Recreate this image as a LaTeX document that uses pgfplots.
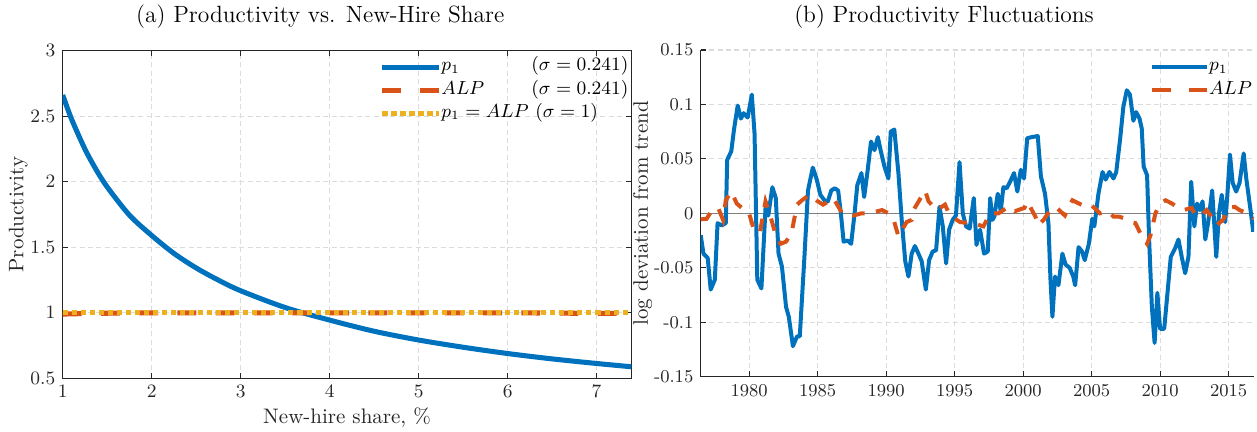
\documentclass[border=0pt]{standalone}
\usepackage{pgfplots}
\pgfplotsset{compat=1.18}
\definecolor{mblue}{rgb}{0,0.447,0.741}
\definecolor{morange}{rgb}{0.85,0.325,0.098}
\definecolor{myellow}{rgb}{0.929,0.694,0.125}
\definecolor{axgray}{rgb}{0.15,0.15,0.15}
\definecolor{gridgray}{rgb}{0.86,0.86,0.86}
\definecolor{zerogray}{rgb}{0.5,0.5,0.5}

\pgfplotsset{
  myaxis/.style={
    scale only axis,
    axis line style={axgray, line width=0.5pt},
    tick style={axgray, line width=0.5pt},
    major tick length=2.7pt,
    tick align=inside,
    grid=major,
    major grid style={gridgray, line width=0.5pt, dash pattern=on 2.4pt off 1.6pt},
    tick label style={font=\fontsize{8.6}{10}\selectfont, text=axgray},
    label style={font=\fontsize{10}{12}\selectfont, text=axgray},
    legend style={font=\fontsize{9.2}{11}\selectfont, draw=none, fill=none,
      inner sep=0pt, row sep=0pt,
      nodes={inner sep=0pt, text height=7.3pt, text depth=3.7pt}},
    legend cell align=left,
  }
}

\begin{document}
\begin{tikzpicture}
\useasboundingbox (-29.86pt,-25.10pt) rectangle (568.71pt,180.14pt);

% ---------------- (a) ----------------
\begin{axis}[myaxis,
  at={(0pt,0pt)}, anchor=south west,
  width=270.76pt, height=156pt,
  xmin=1, xmax=7.39, ymin=0.5, ymax=3,
  xtick={1,2,3,4,5,6,7},
  ytick={0.5,1,1.5,2,2.5,3},
  xlabel={New-hire share, \%},
  xlabel style={at={(axis description cs:0.5,-0.1395)}, anchor=base},
  ylabel={Productivity},
  ylabel style={at={(axis description cs:-0.078,0.5)}, anchor=center},
  legend image code/.code={\draw[#1] (0pt,0pt) -- (27pt,0pt);},
  legend style={at={(axis description cs:0.5568,0.9863)}, anchor=north west},
  after end axis/.append code={
    \node[anchor=base, font=\fontsize{11.2}{13}\selectfont, inner sep=0pt]
      at (rel axis cs:0.453,1.0855) {(a) Productivity vs. New-Hire Share};
  },
]
\addplot[mblue, line width=2.4pt, smooth, forget plot] coordinates {
(1,2.662) (1.1,2.477) (1.25,2.249) (1.375,2.093) (1.5,1.960) (1.75,1.745)
(2,1.590) (2.25,1.453) (2.5,1.342) (2.75,1.249) (3,1.168) (3.5,1.040)
(4,0.944) (4.5,0.859) (5,0.792) (5.5,0.737) (6,0.689) (6.5,0.648)
(7,0.613) (7.39,0.588)};
\addplot[morange, line width=2.4pt, dash pattern=on 9pt off 9.2pt, forget plot] coordinates {
(1,0.99) (1.3,0.995) (2,1) (3,1) (4,1) (5,1) (6,1) (7,0.995) (7.39,0.995)};
\addplot[myellow, line width=2.4pt, dash pattern=on 2.4pt off 1.9pt, forget plot] coordinates {
(1,1) (2,1) (3,1) (4,1) (5,1) (6,1) (7,1) (7.39,1)};
\addlegendimage{mblue, line width=2.4pt}
\addlegendentry{\makebox[89pt][l]{$p_1$\hfill$(\sigma = 0.241)$}}
\addlegendimage{morange, line width=2.4pt, dash pattern=on 9pt off 9pt}
\addlegendentry{\makebox[89pt][l]{$ALP$\hfill$(\sigma = 0.241)$}}
\addlegendimage{myellow, line width=2.4pt, dash pattern=on 2.7pt off 1.6pt}
\addlegendentry{$p_1 = ALP$ $(\sigma = 1)$}
\end{axis}

% ---------------- (b) ----------------
\begin{axis}[myaxis,
  at={(303.81pt,0.76pt)}, anchor=south west,
  width=263.5pt, height=155.57pt,
  axis x line*=bottom, axis y line*=left,
  xmin=1976.47, xmax=2016.86, ymin=-0.15, ymax=0.15,
  xtick={1980,1985,1990,1995,2000,2005,2010,2015},
  xticklabels={1980,1985,1990,1995,2000,2005,2010,2015},
  ytick={-0.15,-0.1,-0.05,0,0.05,0.1,0.15},
  yticklabels={-0.15,-0.1,-0.05,0,0.05,0.1,0.15},
  ylabel={log deviation from trend},
  ylabel style={at={(axis description cs:-0.105,0.5)}, anchor=center},
  legend image code/.code={\draw[#1] (0pt,0pt) -- (26pt,0pt);},
  legend style={at={(axis description cs:0.812,0.984)}, anchor=north west},
  after end axis/.append code={
    \node[anchor=base, font=\fontsize{11.2}{13}\selectfont, inner sep=0pt]
      at (rel axis cs:0.4397,1.0835) {(b) Productivity Fluctuations};
  },
]
\addplot[zerogray, line width=0.7pt, forget plot] coordinates {(1976.47,0) (2016.86,0)};
\addplot[mblue, line width=1.9pt, line join=round, forget plot] coordinates {
(1976.47,-0.020) (1976.67,-0.037) (1976.98,-0.041) (1977.2,-0.070) (1977.5,-0.061)
(1977.7,-0.009) (1978.0,-0.011) (1978.3,-0.009) (1978.4,0.049) (1978.7,0.057)
(1978.9,0.077) (1979.17,0.099) (1979.4,0.087) (1979.6,0.092) (1979.9,0.088)
(1980.2,0.109) (1980.4,0.073) (1980.6,-0.061) (1980.9,-0.069) (1981.2,0.005)
(1981.4,-0.002) (1981.7,0.024) (1981.95,0.014) (1982.15,-0.037) (1982.4,-0.049)
(1982.7,-0.086) (1982.9,-0.095) (1983.2,-0.122) (1983.5,-0.113) (1983.7,-0.113)
(1984.04,-0.040) (1984.3,0.021) (1984.65,0.042) (1984.94,0.031) (1985.2,0.017)
(1985.5,0.012) (1985.75,0.011) (1986.0,0.021) (1986.25,0.023) (1986.5,0.021)
(1986.7,0.0) (1986.9,-0.026) (1987.2,-0.025) (1987.45,-0.028) (1987.7,0.0)
(1987.9,0.026) (1988.2,0.037) (1988.4,0.015) (1988.66,0.040) (1988.9,0.066)
(1989.15,0.058) (1989.4,0.070) (1989.6,0.058) (1989.88,0.043) (1990.17,0.032)
(1990.34,0.075) (1990.6,0.077) (1990.9,0.037) (1991.14,-0.006) (1991.4,-0.044)
(1991.63,-0.058) (1991.87,-0.037) (1992.1,-0.030) (1992.36,-0.037) (1992.6,-0.044)
(1992.9,-0.070) (1993.14,-0.043) (1993.4,-0.035) (1993.65,-0.034) (1993.9,0.006)
(1994.14,-0.012) (1994.38,-0.046) (1994.6,-0.015) (1994.86,-0.006) (1995.1,-0.002)
(1995.36,0.047) (1995.6,0.0) (1995.84,-0.012) (1996.1,-0.014) (1996.4,0.014)
(1996.6,-0.029) (1996.86,-0.015) (1997.15,-0.037) (1997.42,-0.035) (1997.6,0.014)
(1997.76,-0.006) (1997.9,-0.003) (1998.15,0.018) (1998.37,0.002) (1998.56,0.024)
(1998.8,0.023) (1999.05,0.029) (1999.34,0.037) (1999.58,0.020) (1999.83,0.040)
(2000.07,0.032) (2000.3,0.069) (2000.63,0.070) (2001.07,0.071) (2001.3,0.034)
(2001.6,0.018) (2001.85,-0.009) (2002.0,-0.061) (2002.14,-0.095) (2002.33,-0.058)
(2002.58,-0.066) (2002.87,-0.037) (2003.1,-0.047) (2003.4,-0.050) (2003.66,-0.058)
(2003.8,-0.066) (2004.05,-0.031) (2004.3,-0.035) (2004.5,-0.043) (2004.8,-0.028)
(2005.05,-0.005) (2005.2,-0.012) (2005.5,0.018) (2005.8,0.038) (2006.03,0.031)
(2006.3,0.038) (2006.6,0.032) (2006.8,0.038) (2007.08,0.068) (2007.32,0.098)
(2007.57,0.113) (2007.8,0.109) (2008.05,0.085) (2008.25,0.093) (2008.5,0.087)
(2008.66,0.078) (2008.8,0.043) (2009.05,0.035) (2009.2,-0.024) (2009.4,-0.086)
(2009.6,-0.119) (2009.8,-0.073) (2010.0,-0.106) (2010.3,-0.106) (2010.54,-0.073)
(2010.78,-0.040) (2011.1,-0.032) (2011.34,-0.024) (2011.58,-0.040) (2011.83,-0.055)
(2012.07,-0.040) (2012.27,0.029) (2012.5,-0.012) (2012.7,0.009) (2012.9,0.003)
(2013.1,0.011) (2013.3,-0.024) (2013.5,-0.009) (2013.8,0.021) (2014.1,-0.040)
(2014.3,0.0) (2014.5,0.017) (2014.75,-0.008) (2014.9,0.015) (2015.1,0.054)
(2015.3,0.028) (2015.55,0.020) (2015.8,0.028) (2016.1,0.055) (2016.3,0.031)
(2016.57,0.006) (2016.8,-0.017)};
\addplot[morange, line width=1.9pt, dash pattern=on 6pt off 5.5pt, forget plot] coordinates {
(1976.47,-0.0055) (1976.9,-0.005) (1977.3,0.003) (1977.75,0.005) (1978.1,-0.006)
(1978.3,0.012) (1978.7,0.020) (1979.1,0.009) (1979.47,0.005) (1979.95,0.002)
(1980.4,-0.017) (1980.8,-0.017) (1981.2,0.011) (1981.5,0.0) (1981.9,-0.018)
(1982.3,-0.028) (1982.7,-0.026) (1983.1,-0.018) (1983.5,0.008) (1983.86,0.012)
(1984.4,0.017) (1984.9,0.012) (1985.4,0.008) (1985.8,0.011) (1986.15,0.014)
(1986.8,0.0) (1987.6,-0.002) (1988.2,0.0) (1988.8,0.0) (1989.4,0.002)
(1989.7,0.003) (1990.2,0.0) (1990.6,-0.008) (1990.9,-0.021) (1991.5,-0.008)
(1991.87,-0.006) (1992.0,0.003) (1992.85,0.021) (1993.1,0.011) (1993.7,0.003)
(1994.3,0.008) (1994.66,-0.002) (1995.4,-0.008) (1996.1,-0.009) (1996.6,-0.010)
(1997.1,-0.012) (1997.6,0.0) (1998.2,0.0) (1998.8,0.005) (1999.05,0.006)
(1999.4,0.002) (2000.1,0.005) (2000.3,0.011) (2000.9,-0.003) (2001.1,-0.011)
(2001.5,-0.006) (2002.1,0.005) (2002.46,0.005) (2003.05,-0.002) (2003.4,0.008)
(2003.6,0.012) (2004.4,0.007) (2004.96,0.008) (2005.2,0.005) (2005.6,0.0)
(2006.2,0.002) (2006.6,-0.003) (2007.0,-0.003) (2007.5,-0.005) (2007.9,-0.008)
(2008.2,-0.009) (2008.66,-0.021) (2009.05,-0.028) (2009.3,-0.020) (2009.66,0.0)
(2010.0,0.009) (2010.4,0.012) (2010.87,0.009) (2011.34,0.005) (2011.7,0.003)
(2012.3,0.005) (2012.5,0.0) (2012.9,-0.003) (2013.4,0.003) (2013.75,-0.003)
(2014.1,-0.011) (2014.6,-0.006) (2015.0,0.005) (2015.45,0.006) (2015.8,0.003)
(2016.4,0.0) (2016.8,-0.005)};
\addlegendimage{mblue, line width=1.9pt}
\addlegendentry{$p_1$}
\addlegendimage{morange, line width=1.9pt, dash pattern=on 8.6pt off 8.6pt}
\addlegendentry{$ALP$}
\end{axis}
\end{tikzpicture}
\end{document}
